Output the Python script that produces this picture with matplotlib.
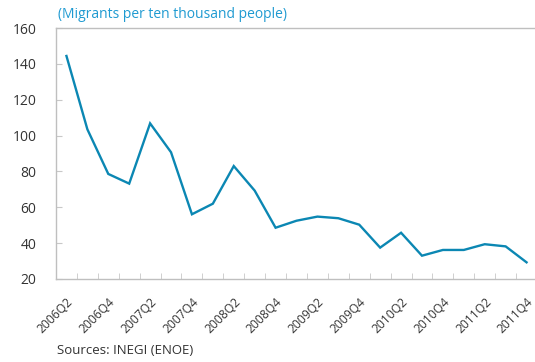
import matplotlib
matplotlib.use("Agg")
import matplotlib.pyplot as plt
import matplotlib.transforms as mtransforms
import numpy as np

# quarters 2006Q2 .. 2011Q4
quarters = [f"{y}Q{q}" for y in range(2006, 2012) for q in range(1, 5)][1:]
migrants = [144.4, 103.5, 78.6, 73.2, 106.8, 90.7, 56.1, 62.0, 83.0, 69.3,
            48.6, 52.5, 54.8, 53.9, 50.3, 37.5, 45.8, 33.0, 36.2, 36.2,
            39.4, 38.2, 29.3]
y_ticks = [20, 40, 60, 80, 100, 120, 140, 160]

plt.rcParams['font.family'] = ['Open Sans', 'DejaVu Sans']

W, H = 535, 362
fig = plt.figure(figsize=(W / 100, H / 100), dpi=100)
ax = fig.add_axes([56 / W, 1 - 279 / H, (537 - 56) / W, 251 / H])

x = np.arange(len(quarters))
ax.plot(x, migrants, color="#0b87b3", linewidth=1.7, solid_joinstyle="miter")

ax.set_xlim(-0.5, len(quarters) - 0.5)
ax.set_ylim(20, 160)
ax.set_yticks(y_ticks)

# category labels every second quarter, tick marks on boundaries
ax.set_xticks(x[::2])
ax.set_xticklabels(quarters[::2], rotation=45, ha="right", va="top",
                   rotation_mode="anchor", fontsize=8.7, color="#333333")
shift = mtransforms.ScaledTranslation(1 / 100, 0, fig.dpi_scale_trans)
for lab in ax.get_xticklabels():
    lab.set_transform(lab.get_transform() + shift)
ax.set_xticks(np.arange(-0.5, len(quarters)), minor=True)
ax.tick_params(axis="x", which="major", length=0, pad=12)
ax.tick_params(axis="x", which="minor", direction="in", length=4,
               color="#c8c8c8")
ax.tick_params(axis="y", direction="in", length=4, color="#c8c8c8",
               labelsize=10, labelcolor="#333333", pad=14)

for spine in ax.spines.values():
    spine.set_color("#bfbfbf")
    spine.set_linewidth(1)

fig.text(58 / W, 1 - 14 / H, "(Migrants per ten thousand people)",
         color="#1f9ad1", fontsize=10, va="center", ha="left")
fig.text(57 / W, 1 - 351 / H, "Sources: INEGI (ENOE)",
         color="#333333", fontsize=9.5, va="center", ha="left")

fig.savefig("out.png", dpi=100)
